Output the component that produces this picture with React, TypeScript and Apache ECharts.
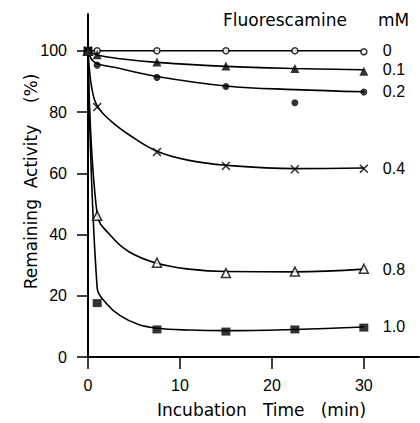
import React, { useEffect, useRef } from 'react';
import * as echarts from 'echarts';

// Concentrations of fluorescamine (mM)
const concentrations = ['0', '0.1', '0.2', '0.4', '0.8', '1.0'];

// Measured time points (min)
const times = [0, 1, 7.5, 15, 22.5, 30];

// Measured remaining activity (%) per concentration
const measured0 = [100, 100, 100, 100, 100, 99.7];
const measured01 = [100, 98.7, 96.3, 95.0, 94.2, 93.3];
const measured02 = [100, 95.3, 91.3, 88.3, 83.0, 86.5];
const measured04 = [100, 81.6, 66.9, 62.4, 61.3, 61.5];
const measured08 = [100, 46.1, 30.8, 27.4, 27.9, 28.8];
const measured10 = [100, 17.6, 9.0, 8.3, 9.0, 9.6];

// Hand-drawn fitted curves
const curve0X = [0, 30];
const curve0Y = [100, 100];
const curve01X = [0, 1, 4, 7.5, 15, 22.5, 30];
const curve01Y = [100, 98.6, 97.2, 96.2, 94.9, 94.2, 93.8];
const curve02X = [0, 0.7, 3, 7.5, 15, 22.5, 30];
const curve02Y = [100, 96.3, 94.5, 91.6, 88.5, 87.3, 86.6];
const curve04X = [0, 0.4, 1, 2.5, 4.5, 7.5, 11, 15, 22.5, 30];
const curve04Y = [100, 88, 82, 77, 72.5, 67.2, 64.2, 62.6, 61.5, 61.7];
const curve08X = [0, 1, 2.5, 4.5, 7.5, 11, 15, 22.5, 30];
const curve08Y = [100, 46.5, 39.5, 34.3, 30.6, 28.7, 27.9, 27.8, 28.7];
const curve10X = [0, 1, 2, 3.5, 5.5, 7.5, 11, 15, 22.5, 30];
const curve10Y = [100, 22.5, 17.5, 13.5, 10.6, 9.4, 8.8, 8.6, 9, 9.8];

// Axis ticks
const xTicks = [0, 10, 20, 30];
const yTicks = [0, 20, 40, 60, 80, 100];

const measuredAll = [measured0, measured01, measured02, measured04, measured08, measured10];
const curvesX = [curve0X, curve01X, curve02X, curve04X, curve08X, curve10X];
const curvesY = [curve0Y, curve01Y, curve02Y, curve04Y, curve08Y, curve10Y];

const TEXT_FONT = 'DejaVu Sans';
const NUM_FONT = 'Liberation Sans';

const crossPath =
  'path://M0,1.2L1.2,0L5,3.8L8.8,0L10,1.2L6.2,5L10,8.8L8.8,10L5,6.2L1.2,10L0,8.8L3.8,5Z';

const markerStyles: any[] = [
  { symbol: 'circle', symbolSize: 6, itemStyle: { color: '#fff', borderColor: '#000', borderWidth: 1.5 } },
  { symbol: 'triangle', symbolSize: 9, itemStyle: { color: '#000' } },
  { symbol: 'circle', symbolSize: 7, itemStyle: { color: '#000' } },
  { symbol: crossPath, symbolSize: 9, itemStyle: { color: '#000' } },
  { symbol: 'triangle', symbolSize: 9, itemStyle: { color: '#fff', borderColor: '#000', borderWidth: 1.5 } },
  { symbol: 'rect', symbolSize: [9, 8], itemStyle: { color: '#000' } },
];

export default function App() {
  const ref = useRef<HTMLDivElement>(null);
  useEffect(() => {
    const chart = echarts.init(ref.current!, null, { renderer: 'svg' });
    const series: any[] = [];
    concentrations.forEach((c, i) => {
      series.push({
        name: c,
        type: 'line',
        data: curvesX[i].map((x, j) => [x, curvesY[i][j]]),
        smooth: 0.4,
        showSymbol: false,
        symbol: 'none',
        lineStyle: { color: '#000', width: 1.6 },
        z: 2,
        silent: true,
        endLabel: {
          show: true,
          formatter: '{a}',
          distance: 19,
          color: '#000',
          fontSize: 16,
          fontFamily: NUM_FONT,
        },
      });
      series.push({
        name: c + ' measured',
        type: 'scatter',
        data: times.map((t, j) => [t, measuredAll[i][j]]),
        ...markerStyles[i],
        z: 3,
        silent: true,
      });
    });

    const option: any = {
      animation: false,
      backgroundColor: '#fff',
      title: [
        {
          text: 'Fluorescamine',
          left: 223,
          top: 11,
          padding: 0,
          textStyle: { fontFamily: TEXT_FONT, fontSize: 17, fontWeight: 'normal', color: '#000' },
        },
        {
          text: 'mM',
          left: 378,
          top: 11,
          padding: 0,
          textStyle: { fontFamily: TEXT_FONT, fontSize: 17, fontWeight: 'normal', color: '#000' },
        },
      ],
      grid: { left: 88, right: 1, top: 14, bottom: 60, containLabel: false },
      xAxis: {
        type: 'value',
        min: 0,
        max: 36,
        interval: 10,
        name: 'Incubation   Time   (min)',
        nameLocation: 'middle',
        nameGap: 44,
        nameMoveOverlap: false,
        nameTextStyle: {
          fontFamily: TEXT_FONT,
          fontSize: 17,
          color: '#000',
          padding: [0, 0, 0, 16],
        },
        axisLine: { lineStyle: { color: '#000', width: 2 } },
        axisTick: { length: 12, lineStyle: { color: '#000', width: 1.5 }, customValues: xTicks },
        axisLabel: {
          customValues: xTicks,
          margin: 20,
          color: '#000',
          fontSize: 16,
          fontFamily: NUM_FONT,
        },
        splitLine: { show: false },
      },
      yAxis: {
        type: 'value',
        min: 0,
        max: 112,
        interval: 20,
        name: 'Remaining  Activity    (%)',
        nameLocation: 'middle',
        nameGap: 49,
        nameMoveOverlap: false,
        nameRotate: 90,
        nameTextStyle: {
          fontFamily: TEXT_FONT,
          fontSize: 17,
          color: '#000',
          padding: [0, 0, 0, 8],
        },
        axisLine: { lineStyle: { color: '#000', width: 2 } },
        axisTick: { length: 11, lineStyle: { color: '#000', width: 1.5 }, customValues: yTicks },
        axisLabel: {
          customValues: yTicks,
          margin: 21,
          color: '#000',
          fontSize: 16,
          fontFamily: NUM_FONT,
        },
        splitLine: { show: false },
      },
      series,
    };
    chart.setOption(option);
    return () => chart.dispose();
  }, []);
  return (
    <div
      ref={ref}
      style={{ position: 'absolute', left: 0, top: 0, width: 420, height: 423, background: '#fff' }}
    />
  );
}
